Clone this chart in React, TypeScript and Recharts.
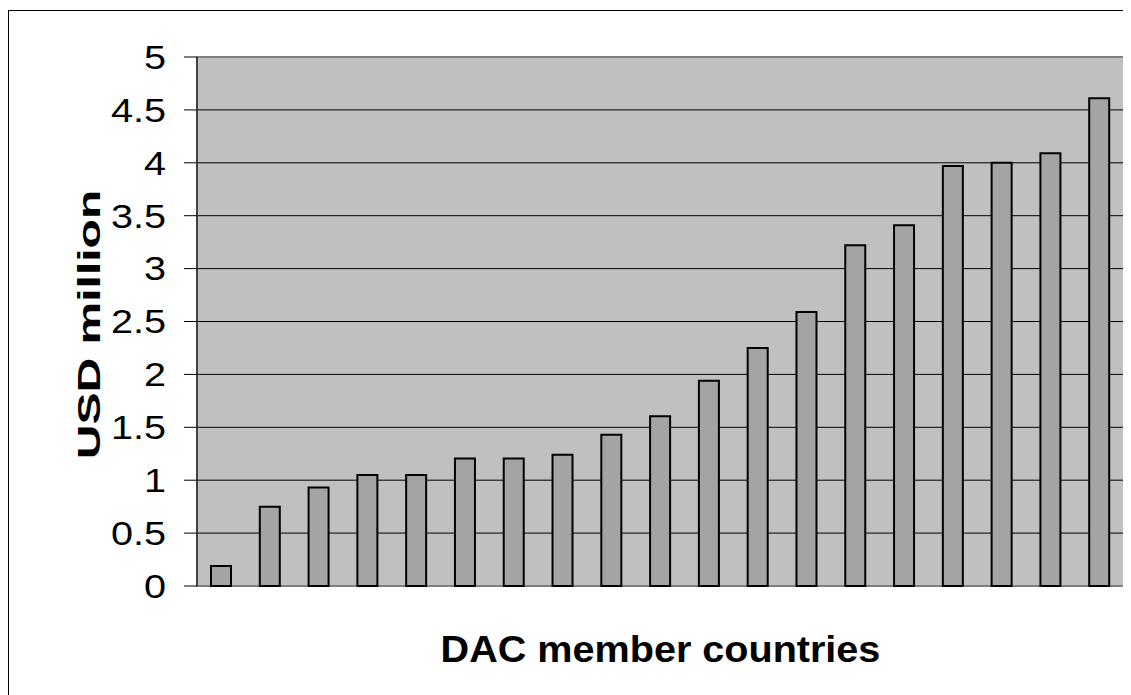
import React from 'react'
import {
  BarChart,
  Bar,
  XAxis,
  YAxis,
  CartesianGrid,
  ReferenceArea,
} from 'recharts'

// DAC member countries, sorted ascending (names not shown on the chart)
const countries = [
  'c1', 'c2', 'c3', 'c4', 'c5', 'c6', 'c7', 'c8', 'c9', 'c10',
  'c11', 'c12', 'c13', 'c14', 'c15', 'c16', 'c17', 'c18', 'c19',
]
const usdMillion = [
  0.19, 0.75, 0.93, 1.05, 1.05, 1.205, 1.205, 1.24, 1.43, 1.605,
  1.94, 2.25, 2.59, 3.22, 3.41, 3.97, 4.0, 4.09, 4.61,
]
const yTicks = [0, 0.5, 1, 1.5, 2, 2.5, 3, 3.5, 4, 4.5, 5]

const data = countries.map((c, i) => ({ country: c, value: usdMillion[i] }))

const FONT = '"Liberation Sans", Arial, sans-serif'

function YTick(props: any) {
  const { x, y, payload } = props
  return (
    <g transform={`translate(${x},${y}) scale(1.2,1)`}>
      <text
        textAnchor="end"
        dy="0.36em"
        fontSize={33}
        fontFamily={FONT}
        fill="#000"
      >
        {payload.value}
      </text>
    </g>
  )
}

function YTitle(props: any) {
  const vb = props.viewBox || { x: 0, y: 0, width: 188, height: 529 }
  const cx = vb.x + 80
  const cy = vb.y + vb.height / 2 + 3
  return (
    <g transform={`translate(${cx},${cy}) rotate(-90) scale(1.55,1)`}>
      <text
        textAnchor="middle"
        dy="0.36em"
        fontSize={31}
        fontWeight="bold"
        fontFamily={FONT}
        fill="#000"
      >
        USD million
      </text>
    </g>
  )
}

function XTitle(props: any) {
  const vb = props.viewBox || { x: 188, y: 575, width: 927, height: 107 }
  const cx = vb.x + vb.width / 2
  const cy = vb.y + 76
  return (
    <g transform={`translate(${cx},${cy}) scale(1.07,1)`}>
      <text
        textAnchor="middle"
        fontSize={37}
        fontWeight="bold"
        fontFamily={FONT}
        fill="#000"
      >
        DAC member countries
      </text>
    </g>
  )
}

export default function App() {
  return (
    <div
      style={{
        marginTop: 2,
        width: 1123,
        height: 684,
        border: '1px solid #000',
        background: '#fff',
      }}
    >
      <BarChart
        width={1121}
        height={682}
        data={data}
        margin={{ top: 46, right: 6, left: 0, bottom: 0 }}
      >
        <CartesianGrid
          vertical={false}
          stroke="#000"
          fill="#C0C0C0"
          fillOpacity={1}
        />
        <XAxis
          dataKey="country"
          height={107}
          tick={false}
          axisLine={false}
          tickLine={false}
          label={<XTitle />}
        />
        <YAxis
          width={188}
          domain={[0, 5]}
          ticks={yTicks}
          interval={0}
          tickSize={13}
          tickMargin={18}
          tick={<YTick />}
          tickLine={{ stroke: '#000' }}
          axisLine={{ stroke: '#404040', strokeWidth: 2 }}
          label={<YTitle />}
        />
        <ReferenceArea
          y1={0}
          y2={5}
          fill="none"
          stroke="#808080"
          strokeWidth={2}
        />
        <Bar
          dataKey="value"
          barSize={20}
          fill="#A4A4A4"
          stroke="#000"
          strokeWidth={2}
          isAnimationActive={false}
        />
      </BarChart>
    </div>
  )
}
